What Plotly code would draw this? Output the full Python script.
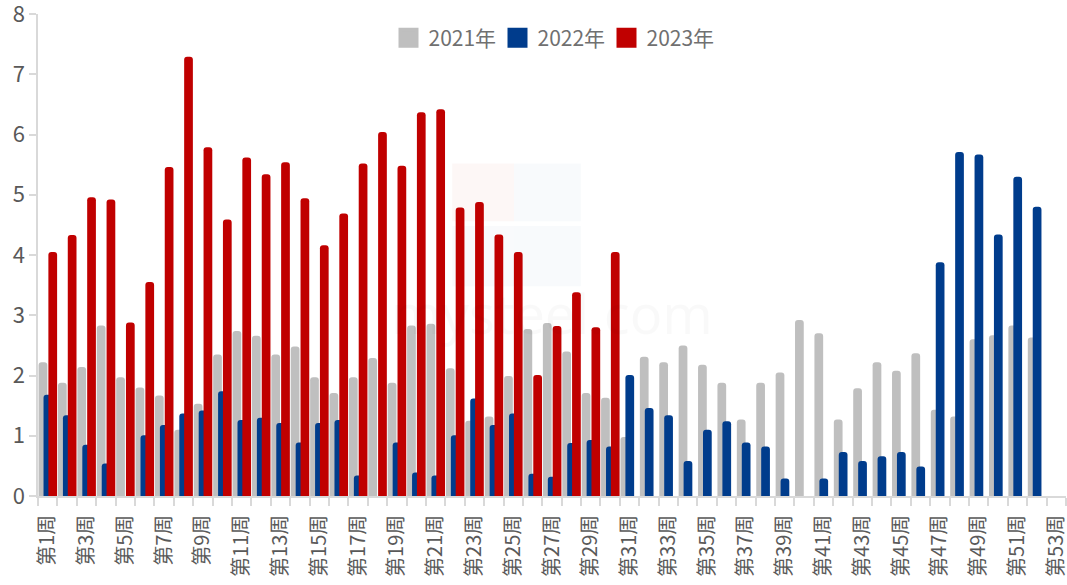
import plotly.graph_objects as go

weeks = list(range(1, 54))
week_labels = [f"第{w}周" for w in weeks]

y2021 = [2.22, 1.88, 2.14, 2.83, 1.97, 1.80, 1.67, 1.10, 1.53, 2.35,
         2.74, 2.66, 2.35, 2.48, 1.97, 1.71, 1.97, 2.29, 1.88, 2.83,
         2.86, 2.12, 1.25, 1.32, 1.99, 2.77, 2.87, 2.40, 1.71, 1.63,
         0.98, 2.31, 2.22, 2.50, 2.18, 1.88, 1.27, 1.88, 2.05, 2.92,
         2.70, 1.27, 1.79, 2.22, 2.08, 2.37, 1.43, 1.32, 2.60, 2.67,
         2.83, 2.63, None]
y2022 = [1.68, 1.34, 0.85, 0.54, None, 1.01, 1.18, 1.37, 1.42, 1.74,
         1.26, 1.30, 1.21, 0.89, 1.21, 1.26, 0.34, None, 0.89, 0.39,
         0.34, 1.01, 1.62, 1.18, 1.37, 0.37, 0.32, 0.88, 0.93, 0.82,
         2.01, 1.46, 1.34, 0.58, 1.10, 1.24, 0.89, 0.82, 0.29, None,
         0.29, 0.73, 0.58, 0.66, 0.73, 0.49, 3.88, 5.71, 5.67, 4.34,
         5.30, 4.80, None]
y2023 = [4.05, 4.33, 4.96, 4.92, 2.88, 3.55, 5.46, 7.29, 5.79, 4.59,
         5.62, 5.34, 5.54, 4.94, 4.16, 4.69, 5.52, 6.04, 5.48, 6.37,
         6.42, 4.79, 4.88, 4.34, 4.05, 2.01, 2.82, 3.38, 2.80, 4.05] + [None] * 23

series_names = ["2021年", "2022年", "2023年"]
colors = ["#BFBFBF", "#003C8C", "#C00000"]
offsets = [-0.47, -0.215, 0.035]
bar_w = 0.45

fig = go.Figure()
for name, vals, col, off in zip(series_names, [y2021, y2022, y2023], colors, offsets):
    fig.add_trace(go.Bar(x=weeks, y=vals, name=name, marker=dict(color=col, line=dict(width=0)),
                         width=bar_w, offset=off, showlegend=False, legendgroup=name))
for name, col in zip(series_names, colors):
    fig.add_trace(go.Scatter(x=[None], y=[None], mode="markers", name=name, legendgroup=name,
                             marker=dict(symbol="square", size=16, color=col,
                                         line=dict(width=4, color=col))))

# faint watermark (paper coordinates)
wm_boxes = [
    (0.403, 0.463, 0.570, 0.690, "rgba(225,90,70,0.05)"),
    (0.463, 0.528, 0.570, 0.690, "rgba(70,100,170,0.035)"),
    (0.403, 0.463, 0.435, 0.560, "rgba(70,100,170,0.03)"),
    (0.463, 0.528, 0.435, 0.560, "rgba(70,100,170,0.035)"),
]
for x0, x1, y0, y1, fc in wm_boxes:
    fig.add_shape(type="rect", xref="paper", yref="paper", x0=x0, x1=x1, y0=y0, y1=y1,
                  fillcolor=fc, line=dict(width=0), layer="below")
fig.add_annotation(xref="paper", yref="paper", x=0.5, y=0.38, text="mysteel.com",
                   showarrow=False, font=dict(size=54, color="rgba(0,0,0,0.025)",
                                              family="Noto Sans, sans-serif"))

font_fam = "Noto Sans CJK SC, Noto Sans, sans-serif"
fig.update_layout(
    width=1067, height=585,
    margin=dict(l=38, r=1, t=14, b=89, autoexpand=False),
    paper_bgcolor="white", plot_bgcolor="white",
    barmode="overlay", barcornerradius=3,
    font=dict(family=font_fam, color="#595959"),
    legend=dict(orientation="h", x=0.5, xanchor="center", y=0.95, yanchor="middle",
                font=dict(size=21, color="#707070"), bgcolor="rgba(0,0,0,0)",
                entrywidth=64, itemclick=False),
    xaxis=dict(range=[0.5, 53.5], tickmode="array", automargin=False,
               tickvals=weeks[::2], ticktext=week_labels[::2],
               tickangle=-90, ticks="", ticklabelstandoff=9,
               ticklabeloverflow="allow",
               tickfont=dict(size=20, color="#595959"),
               showline=True, linecolor="#D9D9D9", linewidth=1.5,
               showgrid=False, zeroline=False,
               minor=dict(tickmode="linear", tick0=0.5, dtick=1, ticks="outside",
                          ticklen=8, tickcolor="#D9D9D9", tickwidth=1.5, showgrid=False)),
    yaxis=dict(range=[0, 8.0001], tickmode="array", tickvals=list(range(0, 9)),
               ticktext=[str(v) for v in range(0, 9)], automargin=False,
               ticklabeloverflow="allow",
               ticks="outside", ticklen=7, tickcolor="#D9D9D9", tickwidth=1.5,
               tickfont=dict(size=22, color="#595959"),
               showline=True, linecolor="#D9D9D9", linewidth=1.5,
               showgrid=False, zeroline=False),
)

fig.write_html("out.html", config={"displayModeBar": False},
               post_script="document.body.style.margin='0px';document.body.style.overflow='hidden';")
